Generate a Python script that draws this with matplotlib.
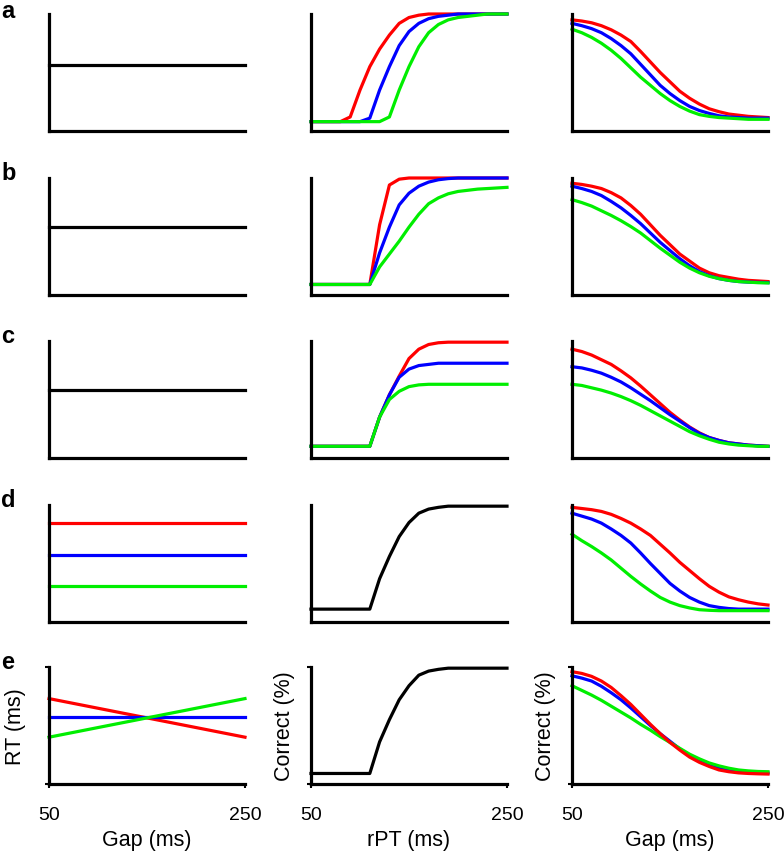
import matplotlib
matplotlib.use('Agg')
import matplotlib.pyplot as plt

plt.rcParams['font.family'] = ['Liberation Sans', 'DejaVu Sans']

RED = '#ff0000'
BLUE = '#0000ff'
GREEN = '#00ee00'

# x grid (ms), shared by gap and rPT axes
ms = [50, 60, 70, 80, 90, 100, 110, 120, 130, 140, 150,
      160, 170, 180, 190, 200, 210, 220, 230, 240, 250]
ends = [50, 250]

# ---- left column: RT vs gap (normalised 0..1) ----
rt_a = [0.56, 0.56]
rt_b = [0.58, 0.58]
rt_c = [0.58, 0.58]
rt_d_red = [0.846, 0.846]
rt_d_blue = [0.575, 0.575]
rt_d_green = [0.308, 0.308]
rt_e_red = [0.73, 0.40]
rt_e_blue = [0.57, 0.57]
rt_e_green = [0.40, 0.73]

# ---- middle column: correct vs rPT ----
pc_a_red = [0.08, 0.08, 0.08, 0.08, 0.12, 0.35, 0.55, 0.70, 0.82, 0.92, 0.97,
            0.99, 1.0, 1.0, 1.0, 1.0, 1.0, 1.0, 1.0, 1.0, 1.0]
pc_a_blue = [0.08, 0.08, 0.08, 0.08, 0.08, 0.08, 0.11, 0.35, 0.55, 0.73, 0.85,
             0.92, 0.96, 0.98, 0.99, 1.0, 1.0, 1.0, 1.0, 1.0, 1.0]
pc_a_green = [0.08, 0.08, 0.08, 0.08, 0.08, 0.08, 0.08, 0.08, 0.12, 0.35, 0.55,
              0.72, 0.84, 0.91, 0.95, 0.97, 0.98, 0.99, 1.0, 1.0, 1.0]

pc_b_red = [0.09, 0.09, 0.09, 0.09, 0.09, 0.09, 0.09, 0.60, 0.94, 0.99, 1.0,
            1.0, 1.0, 1.0, 1.0, 1.0, 1.0, 1.0, 1.0, 1.0, 1.0]
pc_b_blue = [0.09, 0.09, 0.09, 0.09, 0.09, 0.09, 0.09, 0.36, 0.58, 0.77, 0.87,
             0.93, 0.965, 0.985, 0.995, 1.0, 1.0, 1.0, 1.0, 1.0, 1.0]
pc_b_green = [0.09, 0.09, 0.09, 0.09, 0.09, 0.09, 0.09, 0.24, 0.35, 0.46, 0.58,
              0.69, 0.78, 0.83, 0.865, 0.885, 0.895, 0.905, 0.91, 0.915, 0.92]

pc_c_red = [0.10, 0.10, 0.10, 0.10, 0.10, 0.10, 0.10, 0.35, 0.54, 0.70, 0.85,
            0.93, 0.97, 0.985, 0.99, 0.99, 0.99, 0.99, 0.99, 0.99, 0.99]
pc_c_blue = [0.10, 0.10, 0.10, 0.10, 0.10, 0.10, 0.10, 0.35, 0.54, 0.69, 0.76,
             0.79, 0.80, 0.81, 0.81, 0.81, 0.81, 0.81, 0.81, 0.81, 0.81]
pc_c_green = [0.10, 0.10, 0.10, 0.10, 0.10, 0.10, 0.10, 0.35, 0.50, 0.57, 0.61,
              0.625, 0.63, 0.63, 0.63, 0.63, 0.63, 0.63, 0.63, 0.63, 0.63]

pc_d = [0.11, 0.11, 0.11, 0.11, 0.11, 0.11, 0.11, 0.37, 0.56, 0.73, 0.85,
        0.93, 0.965, 0.98, 0.99, 0.99, 0.99, 0.99, 0.99, 0.99, 0.99]
pc_e = [0.09, 0.09, 0.09, 0.09, 0.09, 0.09, 0.09, 0.36, 0.55, 0.72, 0.84,
        0.93, 0.965, 0.98, 0.99, 0.99, 0.99, 0.99, 0.99, 0.99, 0.99]

# ---- right column: correct vs gap ----
gc_a_red = [0.95, 0.94, 0.925, 0.90, 0.865, 0.82, 0.765, 0.68, 0.59, 0.50, 0.42,
            0.34, 0.28, 0.23, 0.19, 0.165, 0.145, 0.135, 0.125, 0.12, 0.115]
gc_a_blue = [0.92, 0.90, 0.875, 0.84, 0.79, 0.73, 0.66, 0.57, 0.48, 0.39, 0.32,
             0.26, 0.21, 0.175, 0.15, 0.13, 0.12, 0.115, 0.11, 0.11, 0.11]
gc_a_green = [0.87, 0.84, 0.80, 0.75, 0.69, 0.62, 0.54, 0.46, 0.39, 0.32, 0.26,
              0.21, 0.17, 0.14, 0.125, 0.115, 0.11, 0.105, 0.10, 0.10, 0.10]

gc_b_red = [0.955, 0.945, 0.93, 0.91, 0.875, 0.83, 0.765, 0.69, 0.60, 0.51, 0.43,
            0.35, 0.29, 0.23, 0.19, 0.165, 0.15, 0.135, 0.125, 0.12, 0.115]
gc_b_blue = [0.93, 0.91, 0.885, 0.85, 0.80, 0.745, 0.68, 0.61, 0.53, 0.45, 0.38,
             0.31, 0.25, 0.20, 0.165, 0.14, 0.125, 0.115, 0.11, 0.108, 0.106]
gc_b_green = [0.815, 0.79, 0.76, 0.72, 0.68, 0.635, 0.585, 0.53, 0.465, 0.40, 0.34,
              0.28, 0.23, 0.19, 0.16, 0.14, 0.125, 0.115, 0.11, 0.105, 0.103]

gc_c_red = [0.93, 0.91, 0.88, 0.84, 0.80, 0.745, 0.685, 0.615, 0.54, 0.465, 0.39,
            0.325, 0.265, 0.215, 0.175, 0.15, 0.13, 0.12, 0.11, 0.105, 0.10]
gc_c_blue = [0.78, 0.77, 0.75, 0.725, 0.69, 0.65, 0.60, 0.545, 0.49, 0.43, 0.37,
             0.315, 0.26, 0.21, 0.175, 0.15, 0.13, 0.12, 0.11, 0.105, 0.10]
gc_c_green = [0.63, 0.62, 0.60, 0.58, 0.555, 0.525, 0.49, 0.45, 0.405, 0.36, 0.315,
              0.27, 0.225, 0.19, 0.16, 0.135, 0.12, 0.11, 0.105, 0.10, 0.10]

gc_d_red = [0.98, 0.97, 0.96, 0.945, 0.92, 0.885, 0.845, 0.795, 0.74, 0.665, 0.59,
            0.51, 0.44, 0.37, 0.305, 0.255, 0.215, 0.19, 0.17, 0.155, 0.145]
gc_d_blue = [0.93, 0.905, 0.88, 0.845, 0.795, 0.74, 0.675, 0.59, 0.50, 0.415, 0.33,
             0.265, 0.21, 0.17, 0.14, 0.125, 0.115, 0.11, 0.11, 0.11, 0.11]
gc_d_green = [0.75, 0.695, 0.645, 0.59, 0.53, 0.46, 0.39, 0.325, 0.265, 0.21, 0.17,
              0.14, 0.12, 0.105, 0.10, 0.097, 0.097, 0.097, 0.097, 0.097, 0.097]

gc_e_red = [0.96, 0.945, 0.92, 0.88, 0.825, 0.755, 0.68, 0.595, 0.51, 0.43, 0.355,
            0.29, 0.23, 0.185, 0.15, 0.12, 0.105, 0.095, 0.09, 0.087, 0.085]
gc_e_blue = [0.925, 0.905, 0.88, 0.835, 0.78, 0.72, 0.65, 0.575, 0.50, 0.43, 0.365,
             0.30, 0.245, 0.20, 0.165, 0.135, 0.115, 0.105, 0.10, 0.095, 0.094]
gc_e_green = [0.84, 0.80, 0.76, 0.715, 0.665, 0.615, 0.565, 0.51, 0.46, 0.405, 0.355,
              0.305, 0.255, 0.215, 0.18, 0.155, 0.135, 0.12, 0.112, 0.107, 0.105]

row_letters = ['a', 'b', 'c', 'd', 'e']
xlabels = ['Gap (ms)', 'rPT (ms)', 'Gap (ms)']
ylabels = ['RT (ms)', 'Correct (%)', 'Correct (%)']

left_series = [
    [(rt_a, 'black')],
    [(rt_b, 'black')],
    [(rt_c, 'black')],
    [(rt_d_red, RED), (rt_d_blue, BLUE), (rt_d_green, GREEN)],
    [(rt_e_red, RED), (rt_e_blue, BLUE), (rt_e_green, GREEN)],
]
mid_series = [
    [(pc_a_red, RED), (pc_a_blue, BLUE), (pc_a_green, GREEN)],
    [(pc_b_red, RED), (pc_b_blue, BLUE), (pc_b_green, GREEN)],
    [(pc_c_red, RED), (pc_c_blue, BLUE), (pc_c_green, GREEN)],
    [(pc_d, 'black')],
    [(pc_e, 'black')],
]
right_series = [
    [(gc_a_red, RED), (gc_a_blue, BLUE), (gc_a_green, GREEN)],
    [(gc_b_red, RED), (gc_b_blue, BLUE), (gc_b_green, GREEN)],
    [(gc_c_red, RED), (gc_c_blue, BLUE), (gc_c_green, GREEN)],
    [(gc_d_red, RED), (gc_d_blue, BLUE), (gc_d_green, GREEN)],
    [(gc_e_blue, BLUE), (gc_e_green, GREEN), (gc_e_red, RED)],
]

W, H = 784, 853
fig = plt.figure(figsize=(W / 100, H / 100), dpi=100)

col_x = [49, 311, 572]      # left edge of each column (px)
row_bottom = [132, 296, 459, 623, 785]   # bottom spine of each row (px)
pw, ph = 196, 117
ylabel_pad = [0.5, -4.5, -4.5]

for r in range(5):
    for c in range(3):
        ax = fig.add_axes([col_x[c] / W, 1 - row_bottom[r] / H, pw / W, ph / H])
        ax.set_xlim(50, 250)
        ax.set_ylim(0, 1)
        for s in ['top', 'right']:
            ax.spines[s].set_visible(False)
        for s in ['left', 'bottom']:
            ax.spines[s].set_linewidth(2.3)
        series = [left_series, mid_series, right_series][c][r]
        xs = ends if c == 0 else ms
        for yv, col in series:
            ax.plot(xs, yv, color=col, lw=2.3, clip_on=False)

        if r == 4:
            ax.set_xticks([50, 250])
            ax.set_xticklabels(['50', '250'], fontsize=14)
            ax.set_yticks([0, 1])
            ax.set_yticklabels([])
            ax.tick_params(length=3, width=1.5, pad=13)
            ax.set_xlabel(xlabels[c], fontsize=15.5, labelpad=4)
            ax.set_ylabel(ylabels[c], fontsize=15.5, labelpad=ylabel_pad[c])
        else:
            ax.set_xticks([])
            ax.set_yticks([])

    if r == 0:
        # keep the top letter inside the canvas
        fig.text(1 / W, 1.0, row_letters[r], fontsize=17, fontweight='bold',
                 ha='left', va='top')
    else:
        fig.text(1 / W, 1 - (row_bottom[r] - ph + 1) / H, row_letters[r],
                 fontsize=17, fontweight='bold', ha='left', va='baseline')

fig.savefig('out.png', dpi=100)
